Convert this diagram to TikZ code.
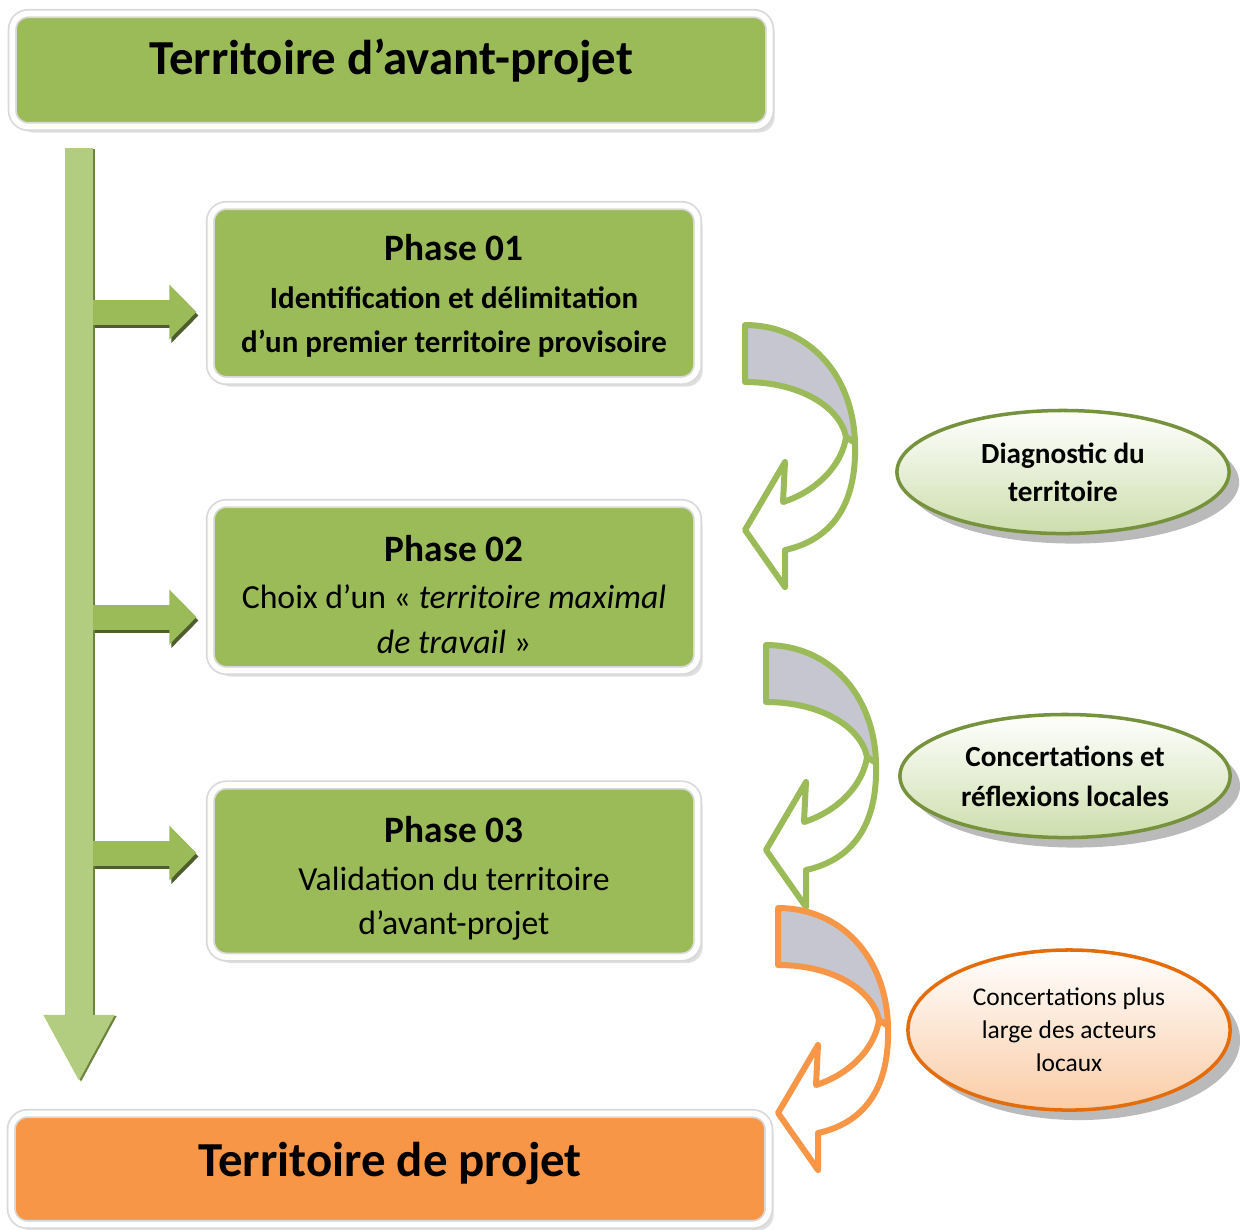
\documentclass[tikz,border=0pt]{standalone}
\usepackage{fontspec}
\setmainfont{Carlito}
\usepackage{xcolor}
\usepackage{tikz}
\usetikzlibrary{shapes,arrows.meta,positioning,shadows,calc}
\definecolor{terrgreen}{RGB}{155,187,89}
\definecolor{spinegreen}{RGB}{178,204,128}
\definecolor{terrorange}{RGB}{247,150,70}
\definecolor{bandgrey}{RGB}{198,198,208}
\definecolor{bubblegreen}{RGB}{205,222,172}
\definecolor{bubbleolive}{RGB}{118,146,60}
\definecolor{bubblepeach}{RGB}{250,204,166}
\definecolor{bubbleorange}{RGB}{228,108,10}

\begin{document}
\begin{tikzpicture}[x=0.01cm, y=-0.01cm,
    framebox/.style={draw=black!15, double=white, double distance=1.6pt, line width=0.5pt,
        rounded corners=0.16cm, inner sep=0pt, align=center,
        drop shadow={shadow xshift=0.05cm, shadow yshift=-0.06cm, fill=black!25}},
    titlebox/.style={framebox, minimum width=7.57cm, font=\fontsize{13.9}{16}\selectfont\bfseries},
    phasebox/.style={framebox, fill=terrgreen, minimum width=4.87cm, font=\fontsize{9.6}{12.6}\selectfont},
    bubble/.style={ellipse, line width=1pt, inner sep=0pt, align=center,
        drop shadow={shadow xshift=0.1cm, shadow yshift=-0.1cm, fill=black!45, opacity=0.6}},
    spine/.style={line width=0.28cm, draw=spinegreen, -{Triangle[width=0.66cm,length=0.67cm]}},
    sidearrow/.style={line width=0.25cm, draw=terrgreen, shorten >=0.13cm,
        -{Triangle[width=0.53cm,length=0.27cm]}},
    sideshadow/.style={sidearrow, draw=terrgreen!50!black,
        transform canvas={xshift=0.02cm, yshift=-0.035cm}}]
    \useasboundingbox (0,0) rectangle (1240,1229);

    % Top and bottom territory boxes
    \node[titlebox, fill=terrgreen, minimum height=1.13cm, text depth=0.27cm] (avant) at (391,70) {Territoire d’avant-projet};
    \node[titlebox, fill=terrorange, minimum height=1.11cm, text depth=0.2cm] (projet) at (390,1169) {Territoire de projet};

    % Phases
    \node[phasebox, minimum height=1.75cm] (p1) at (454,293)
        {\rule{0pt}{9.2pt}{\fontsize{10.6}{13}\selectfont\bfseries Phase 01}\\[1pt]
         {\fontsize{8.8}{12.6}\selectfont\bfseries Identification et délimitation}\\
         {\fontsize{8.8}{12.6}\selectfont\bfseries d’un premier territoire provisoire}};
    \node[phasebox, minimum height=1.67cm] (p2) at (454,587)
        {\rule{0pt}{11.5pt}{\fontsize{10.6}{13}\selectfont\bfseries Phase 02}\\[1pt]
         Choix d’un « \textit{territoire maximal}\\ \textit{de travail} »};
    \node[phasebox, minimum height=1.72cm] (p3) at (454,871)
        {\rule{0pt}{11.5pt}{\fontsize{10.6}{13}\selectfont\bfseries Phase 03}\\[1pt]
         Validation du territoire\\ d’avant-projet};

    % Main vertical arrow
    \coordinate (spinetop) at (79,148);
    \coordinate (spinebot) at (79,1082);
    \draw[spine, draw=terrgreen!70!black, transform canvas={xshift=0.02cm, yshift=-0.01cm}] (spinetop) -- (spinebot);
    \draw[spine] (spinetop) -- (spinebot);

    % Arrows towards the phases
    \coordinate (s1) at (93,312);
    \coordinate (s2) at (93,617);
    \coordinate (s3) at (93,853);
    \foreach \s/\p in {s1/p1, s2/p2, s3/p3} {
        \draw[sideshadow] (\s) -- (\s -| \p.west);
        \draw[sidearrow] (\s) -- (\s -| \p.west);
    }

    % Curved arrows
    \foreach \cx/\cy/\col in {745/325/terrgreen, 766/645/terrgreen, 778/908/terrorange} {
        \begin{scope}[shift={(\cx,\cy)}, line width=1.7pt, line join=round]
            \filldraw[fill=bandgrey, draw=\col] (0,0) .. controls (62,0) and (108,48) .. (110,118)
                -- (101,112) .. controls (95,82) and (55,57) .. (0,57) -- cycle;
            \filldraw[fill=white, draw=\col] (110,118) .. controls (112,182) and (85,215) .. (40,225)
                -- (40,262) -- (0,205) -- (40,137) -- (38,177)
                .. controls (72,166) and (97,140) .. (101,112) -- cycle;
        \end{scope}
    }

    % Side ellipses
    \node[bubble, draw=bubbleolive, top color=white, bottom color=bubblegreen,
        minimum width=3.32cm, minimum height=1.23cm, font=\fontsize{8.3}{10.8}\selectfont\bfseries]
        (diag) at (1063,472) {Diagnostic du\\territoire};
    \node[bubble, draw=bubbleolive, top color=white, bottom color=bubblegreen,
        minimum width=3.3cm, minimum height=1.23cm, font=\fontsize{8.3}{11.3}\selectfont\bfseries]
        (concert) at (1065,776) {Concertations et\\réflexions locales};
    \node[bubble, draw=bubbleorange, top color=white, bottom color=bubblepeach,
        minimum width=3.22cm, minimum height=1.6cm, font=\fontsize{7.25}{9.4}\selectfont]
        (acteurs) at (1069,1030) {Concertations plus\\large des acteurs\\locaux};
\end{tikzpicture}
\end{document}
